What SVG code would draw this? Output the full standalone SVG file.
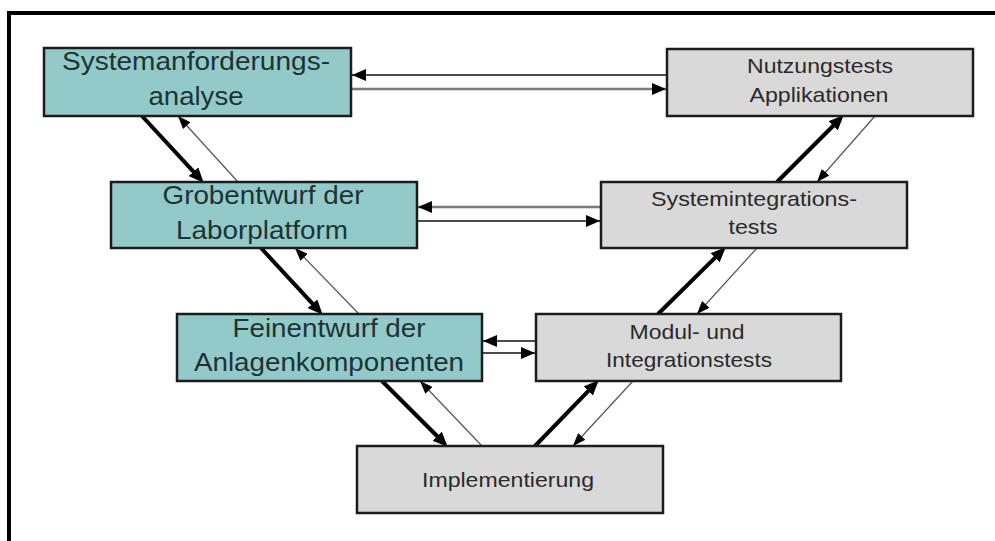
<svg xmlns="http://www.w3.org/2000/svg" width="995" height="541" viewBox="0 0 995 541">
  <style>
    .spec rect { fill: #94c9ca; stroke: #1c1c1c; stroke-width: 2.5; }
    .test rect { fill: #d9d9d9; stroke: #1c1c1c; stroke-width: 2.5; }
    .spec text { font-family: "Liberation Sans", Arial, sans-serif; font-size: 25px; fill: #1c3434; text-anchor: middle; }
    .test text { font-family: "Liberation Sans", Arial, sans-serif; font-size: 21px; fill: #2a2a2a; text-anchor: middle; }
    .thick { stroke: #000; stroke-width: 4; fill: none; }
    .thin { stroke: #555; stroke-width: 1.2; fill: none; }
    .hblack { stroke: #111; stroke-width: 1.6; fill: none; }
    .hgray { stroke: #7a7a7a; stroke-width: 2.6; fill: none; }
  </style>
  <defs>
    <marker id="headBig" markerUnits="userSpaceOnUse" markerWidth="15" markerHeight="13" refX="2" refY="6.5" orient="auto">
      <path d="M0,0 L15,6.5 L0,13 z" fill="#000"/>
    </marker>
    <marker id="headSmall" markerUnits="userSpaceOnUse" markerWidth="13" markerHeight="10" refX="13" refY="5" orient="auto">
      <path d="M0,0 L13,5 L0,10 z" fill="#000"/>
    </marker>
    <marker id="headH" markerUnits="userSpaceOnUse" markerWidth="14" markerHeight="12" refX="14" refY="6" orient="auto">
      <path d="M0,0 L14,6 L0,12 z" fill="#000"/>
    </marker>
  </defs>

  <rect width="995" height="541" fill="#fff"/>

  <!-- outer frame: top and left edges -->
  <g id="frame" stroke="#000" stroke-width="4">
    <line x1="7" y1="13" x2="995" y2="13"/>
    <line x1="9" y1="11" x2="9" y2="541"/>
  </g>

  <g id="connectors">
    <!-- horizontal links between specification and test levels -->
    <line class="hblack" x1="667" y1="75" x2="352" y2="75" marker-end="url(#headH)"/>
    <line class="hgray" x1="352" y1="89" x2="666" y2="89" marker-end="url(#headH)"/>
    <line class="hgray" x1="601" y1="207" x2="418" y2="207" marker-end="url(#headH)"/>
    <line class="hblack" x1="418" y1="221" x2="600" y2="221" marker-end="url(#headH)"/>
    <line class="hblack" x1="536" y1="341" x2="483" y2="341" marker-end="url(#headH)"/>
    <line class="hblack" x1="483" y1="353" x2="535" y2="353" marker-end="url(#headH)"/>

    <!-- descending branch -->
    <line class="thick" x1="142" y1="116" x2="194.85" y2="173.19" marker-end="url(#headBig)"/>
    <line class="thick" x1="261" y1="248" x2="313.85" y2="305.19" marker-end="url(#headBig)"/>
    <line class="thick" x1="382" y1="381" x2="438.5" y2="437.5" marker-end="url(#headBig)"/>
    <line class="thin" x1="238" y1="182" x2="178" y2="116" marker-end="url(#headSmall)"/>
    <line class="thin" x1="359" y1="314" x2="295" y2="248" marker-end="url(#headSmall)"/>
    <line class="thin" x1="482" y1="446" x2="420" y2="381" marker-end="url(#headSmall)"/>

    <!-- ascending branch -->
    <line class="thick" x1="535" y1="446" x2="589.65" y2="389.62" marker-end="url(#headBig)"/>
    <line class="thick" x1="658" y1="314" x2="716.45" y2="256.43" marker-end="url(#headBig)"/>
    <line class="thick" x1="777" y1="182" x2="834.5" y2="124.5" marker-end="url(#headBig)"/>
    <line class="thin" x1="875" y1="116" x2="817" y2="182" marker-end="url(#headSmall)"/>
    <line class="thin" x1="757" y1="248" x2="697" y2="314" marker-end="url(#headSmall)"/>
    <line class="thin" x1="633" y1="381" x2="573" y2="446" marker-end="url(#headSmall)"/>
  </g>

  <g id="systemanforderungsanalyse" class="spec">
    <rect x="44" y="48" width="307" height="68"/>
    <text x="196" y="70" textLength="268" lengthAdjust="spacingAndGlyphs">Systemanforderungs-</text>
    <text x="196" y="105" textLength="95" lengthAdjust="spacingAndGlyphs">analyse</text>
  </g>

  <g id="grobentwurf" class="spec">
    <rect x="111" y="182" width="306" height="66"/>
    <text x="263" y="204" textLength="201" lengthAdjust="spacingAndGlyphs">Grobentwurf der</text>
    <text x="262" y="239" textLength="172" lengthAdjust="spacingAndGlyphs">Laborplatform</text>
  </g>

  <g id="feinentwurf" class="spec">
    <rect x="177" y="314" width="305" height="67"/>
    <text x="329" y="337" textLength="193" lengthAdjust="spacingAndGlyphs">Feinentwurf der</text>
    <text x="329" y="371" textLength="270" lengthAdjust="spacingAndGlyphs">Anlagenkomponenten</text>
  </g>

  <g id="nutzungstests" class="test">
    <rect x="667" y="49" width="306" height="67"/>
    <text x="820" y="73" textLength="146" lengthAdjust="spacingAndGlyphs">Nutzungstests</text>
    <text x="819" y="102" textLength="139" lengthAdjust="spacingAndGlyphs">Applikationen</text>
  </g>

  <g id="systemintegrationstests" class="test">
    <rect x="601" y="182" width="306" height="66"/>
    <text x="754" y="206" textLength="206" lengthAdjust="spacingAndGlyphs">Systemintegrations-</text>
    <text x="753" y="234" textLength="49" lengthAdjust="spacingAndGlyphs">tests</text>
  </g>

  <g id="modultests" class="test">
    <rect x="536" y="314" width="305" height="67"/>
    <text x="687" y="339" textLength="115" lengthAdjust="spacingAndGlyphs">Modul- und</text>
    <text x="689" y="367" textLength="166" lengthAdjust="spacingAndGlyphs">Integrationstests</text>
  </g>

  <g id="implementierung" class="test">
    <rect x="357" y="446" width="306" height="67"/>
    <text x="508" y="487" textLength="172" lengthAdjust="spacingAndGlyphs">Implementierung</text>
  </g>
</svg>
